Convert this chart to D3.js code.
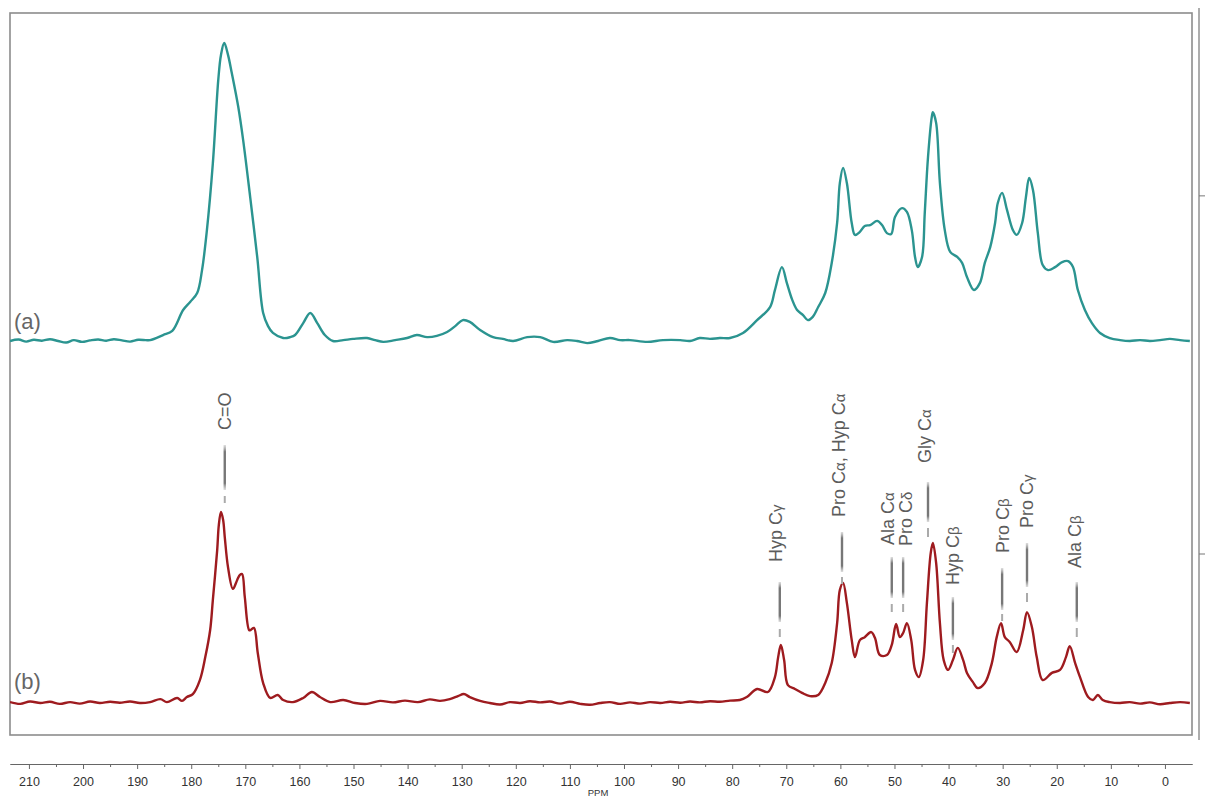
<!DOCTYPE html>
<html lang="en">
<head>
<meta charset="UTF-8">
<title>13C NMR spectra (a) and (b)</title>
<style>
  body { margin: 0; background: #fff; }
  svg { display: block; }
  .frame { fill: none; stroke: #8c8c8c; stroke-width: 1.6px; }
  .trace { fill: none; stroke-width: 2.4px; stroke-linejoin: round; }
  .axis text { font: 12.5px "Liberation Sans", Arial, sans-serif; fill: #333; }
  .axis path, .axis line { stroke: #666; }
  .peak-label { font: 18px "Liberation Sans", Arial, sans-serif; fill: #5c5c5c; }
  .panel-label { font: 22px "Liberation Sans", Arial, sans-serif; fill: #666; }
  .ppm { font: 9.5px "Liberation Sans", Arial, sans-serif; fill: #333; }
</style>
</head>
<body>
<svg width="1206" height="799"></svg>
<script src="https://d3js.org/d3.v7.min.js"></script>
<script>
// spectrum (a), [ppm, intensity]
var traceA = [
  [213.5,0.0],[211.9,0.5],[210.5,-0.2],[209.1,0.4],[207.6,0.1],[206.1,0.6],[204.6,0.0],[203.1,-0.5],[201.7,0.3],[200.2,-0.3],
  [198.7,0.2],[197.2,0.5],[195.7,0.1],[194.3,0.6],[192.8,0.2],[191.3,-0.2],[189.8,0.4],[188.4,0.3],[187.6,0.3],[185.2,2.0],
  [183.5,3.4],[181.5,10.4],[180.2,13.1],[178.9,16.1],[178.0,23.8],[177.1,37.2],[176.0,59.7],[175.0,87.6],[174.5,96.0],[173.9,100],
  [173.2,96.0],[172.5,89.9],[171.3,78.5],[170.4,67.4],[169.1,48.3],[167.8,28.2],[166.7,9.4],[165.8,5.0],[164.9,2.7],[163.0,1.0],
  [161.7,1.3],[160.8,2.0],[159.3,6.0],[158.0,9.4],[156.7,6.0],[155.3,2.0],[153.8,0.0],[151.9,0.3],[150.1,0.7],[147.5,1.0],
  [146.0,0.3],[144.5,-0.3],[142.3,0.3],[140.1,1.0],[138.3,2.0],[136.4,1.3],[134.6,1.7],[132.7,3.0],[131.2,5.0],[129.8,7.0],
  [128.5,6.4],[126.6,3.7],[124.2,1.3],[122.4,0.7],[120.5,0.0],[117.9,1.3],[115.5,1.3],[113.1,-0.3],[110.5,0.3],[108.7,0.0],
  [106.8,-0.7],[104.8,0.0],[102.6,1.0],[100.7,0.3],[98.9,0.3],[95.7,-0.3],[92.8,0.3],[89.6,0.3],[87.8,0.0],[86.0,1.0],
  [84.1,0.7],[82.3,1.0],[80.4,1.0],[78.0,2.7],[75.4,7.0],[73.0,11.4],[72.1,17.1],[70.8,24.8],[69.9,19.5],[68.9,13.8],
  [68.0,10.4],[66.9,8.7],[66.0,7.0],[65.1,8.1],[64.1,11.4],[62.8,16.1],[61.6,26.2],[60.6,39.6],[60.1,53.0],[59.5,58.1],
  [58.8,53.0],[57.9,39.6],[57.3,35.6],[56.4,36.6],[55.5,38.6],[54.5,38.9],[53.2,40.3],[52.3,38.9],[51.4,36.2],[50.6,35.9],
  [49.9,41.6],[48.6,44.6],[47.7,43.3],[46.8,37.2],[46.2,28.2],[45.7,24.8],[44.9,28.2],[44.4,43.0],[43.8,61.7],[43.1,75.2],
  [42.9,76.8],[42.3,73.2],[41.6,53.0],[40.7,37.2],[39.7,29.9],[38.4,28.2],[37.5,26.2],[36.6,21.5],[35.3,17.1],[34.2,19.5],
  [33.3,26.2],[32.3,31.5],[31.4,39.6],[30.9,46.3],[30.1,49.7],[29.2,44.0],[28.1,37.2],[27.4,35.6],[26.4,39.6],[25.7,48.3],
  [25.1,54.7],[24.4,50.7],[23.5,36.2],[22.6,25.5],[21.6,23.8],[20.3,24.8],[19.0,26.5],[17.9,26.8],[17.0,24.8],[16.1,17.1],
  [14.8,10.4],[13.5,6.0],[12.0,2.7],[10.2,1.0],[8.3,0.3],[6.5,0.0],[4.6,0.3],[2.8,0.0],[0.9,0.3],[-0.9,0.7],
  [-2.8,0.3],[-4.6,0.0]
];

// spectrum (b), [ppm, intensity]
var traceB = [
  [213.5,0.3],[211.6,-0.3],[209.8,0.5],[207.9,0.0],[206.1,0.4],[204.3,-0.3],[202.4,0.3],[200.6,-0.2],[198.7,0.5],[196.9,0.0],
  [195.0,0.4],[193.2,0.1],[191.3,0.5],[189.5,0.0],[187.6,0.3],[185.7,1.3],[184.5,0.3],[182.6,1.7],[181.7,0.7],[180.8,2.0],
  [179.7,3.0],[178.4,7.7],[177.4,15.4],[176.5,24.5],[176.0,34.6],[175.2,51.3],[174.9,59.7],[174.5,64.1],[174.1,61.4],[173.8,55.7],
  [173.2,45.6],[172.3,38.3],[171.5,41.3],[171.0,43.0],[170.6,43.3],[170.1,35.6],[169.3,24.5],[169.0,24.5],[168.4,25.2],[167.7,16.8],
  [166.7,6.7],[165.4,1.7],[164.0,2.7],[163.0,1.0],[161.2,0.3],[159.3,1.7],[157.7,3.7],[156.2,2.0],[154.3,0.3],[151.9,1.0],
  [149.7,0.0],[147.5,-0.3],[145.1,0.7],[142.7,0.2],[140.5,0.8],[138.1,0.3],[135.9,1.2],[134.0,0.7],[132.2,1.3],[130.7,2.3],
  [129.6,3.0],[128.5,2.0],[126.6,0.7],[124.8,0.0],[122.9,-0.5],[121.1,0.3],[119.2,0.0],[117.4,0.6],[115.5,0.2],[113.7,0.5],
  [111.8,-0.2],[110.0,0.4],[108.1,-0.3],[106.3,-0.6],[104.4,0.0],[102.6,0.3],[100.7,-0.3],[98.9,0.2],[97.0,-0.2],[95.2,0.3],
  [93.3,0.0],[91.5,0.4],[89.6,0.1],[87.8,0.5],[86.0,0.2],[84.1,0.6],[82.3,0.4],[80.4,0.8],[78.6,1.0],[77.3,2.0],
  [75.4,4.7],[73.4,3.7],[72.1,8.7],[71.5,15.4],[71.0,19.5],[70.4,14.4],[69.7,6.0],[68.4,4.7],[67.1,3.4],[65.6,2.3],
  [64.1,2.7],[62.8,6.7],[61.6,13.4],[60.6,26.8],[60.1,37.9],[59.5,40.3],[58.8,33.6],[57.9,21.1],[57.3,15.4],[56.4,21.1],
  [55.5,22.1],[54.3,23.8],[53.6,21.8],[52.7,16.1],[51.4,16.1],[50.5,19.5],[49.7,26.5],[49.0,22.1],[48.4,23.5],[47.7,26.8],
  [46.9,21.1],[46.2,11.1],[45.5,8.7],[44.7,14.4],[44.0,33.6],[43.3,50.3],[42.9,53.7],[42.3,47.0],[41.6,26.8],[40.9,14.4],
  [40.1,11.1],[39.2,14.4],[38.3,18.5],[37.3,14.4],[36.6,10.1],[35.5,7.0],[34.6,5.0],[33.3,6.7],[32.0,13.4],[31.1,22.1],
  [30.3,26.8],[29.6,22.1],[28.7,20.5],[27.4,17.1],[26.2,24.5],[25.5,30.5],[24.6,25.5],[23.7,15.4],[22.6,7.7],[20.9,10.1],
  [19.4,11.1],[18.3,15.4],[17.6,19.1],[16.6,13.4],[15.7,8.7],[14.2,2.0],[13.3,1.0],[12.4,2.7],[11.5,1.0],[10.2,0.3],
  [8.3,0.0],[6.5,0.3],[4.6,-0.2],[2.8,0.2],[0.9,-0.4],[-0.9,0.0],[-2.8,0.3],[-4.6,0.0]
];

var majorTicks = [210, 200, 190, 180, 170, 160, 150, 140, 130, 120, 110, 100, 90, 80, 70, 60, 50, 40, 30, 20, 10, 0];
var minorTicks = [205, 195, 185, 175, 165, 155, 145, 135, 125, 115, 105, 95, 85, 75, 65, 55, 45, 35, 25, 15, 5];
// intensity ticks on the outer right line, one per spectrum
var sideTicksA = [48.7];
var sideTicksB = [50];

// peak assignments for spectrum (b)
var peakNames = ["C=O", "Hyp Cγ", "Pro Cα, Hyp Cα", "Ala Cα", "Pro Cδ", "Gly Cα", "Hyp Cβ", "Pro Cβ", "Pro Cγ", "Ala Cβ"];
var peakPpm = [173.8, 71.2, 59.7, 50.5, 48.4, 43.8, 39.2, 30.1, 25.5, 16.3];

// where each label sits (pixels): text offset, text bottom, leader line, little dash under it
var labelLayout = [
  {dx: 0, text: 430, line: [445, 490], dash: [496, 503]},
  {dx: -4, text: 562, line: [582, 622], dash: [629, 637]},
  {dx: -3, text: 517, line: [532, 572], dash: [577, 584]},
  {dx: -4, text: 545, line: [557, 598], dash: [604, 612]},
  {dx: 3, text: 546, line: [557, 598], dash: [604, 612]},
  {dx: -3, text: 463, line: [482, 522], dash: [528, 537]},
  {dx: 0, text: 585, line: [597, 640], dash: [645, 653]},
  {dx: 1, text: 553, line: [568, 610], dash: [614, 621]},
  {dx: 0, text: 528, line: [543, 587], dash: [593, 602]},
  {dx: -2, text: 568, line: [582, 622], dash: [628, 637]}
];

var svg = d3.select("svg");
// note: "top" is taken by window.top, so use m.* for the frame edges
var m = {left: 10, right: 1192, top: 13, bottom: 735};

var x = d3.scaleLinear().domain([213.5, -5]).range([m.left, m.right]);
var yA = d3.scaleLinear().domain([0, 100]).range([341, 43]);
var yB = d3.scaleLinear().domain([0, 100]).range([703, 405]);

var defs = svg.append("defs");
defs.append("clipPath").attr("id", "plot")
  .append("rect").attr("x", m.left).attr("y", m.top).attr("width", m.right - m.left).attr("height", m.bottom - m.top);

var grad = defs.append("linearGradient").attr("id", "lead")
  .attr("x1", 0).attr("y1", 0).attr("x2", 0).attr("y2", 1);
grad.append("stop").attr("offset", "0%").attr("stop-color", "#aaa").attr("stop-opacity", 0.4);
grad.append("stop").attr("offset", "15%").attr("stop-color", "#777");
grad.append("stop").attr("offset", "85%").attr("stop-color", "#777");
grad.append("stop").attr("offset", "100%").attr("stop-color", "#aaa").attr("stop-opacity", 0.4);

// frame, plus the second line on the right with its two ticks
svg.append("rect").attr("class", "frame")
  .attr("x", m.left).attr("y", m.top).attr("width", m.right - m.left).attr("height", m.bottom - m.top);
svg.append("line").attr("x1", 1199).attr("x2", 1199).attr("y1", 8).attr("y2", 740)
  .attr("stroke", "#999").attr("stroke-width", 1.6);
var sideY = sideTicksA.map(function (v) { return yA(v); }).concat(sideTicksB.map(function (v) { return yB(v); }));
svg.selectAll(".rtick").data(sideY).enter().append("line")
  .attr("x1", 1199).attr("x2", 1205)
  .attr("y1", function (d) { return d; }).attr("y2", function (d) { return d; })
  .attr("stroke", "#777").attr("stroke-width", 1);

// spectra
var g = svg.append("g").attr("clip-path", "url(#plot)");
var lineA = d3.line().curve(d3.curveCatmullRom.alpha(0.5))
  .x(function (d) { return x(d[0]); }).y(function (d) { return yA(d[1]); });
var lineB = d3.line().curve(d3.curveCatmullRom.alpha(0.5))
  .x(function (d) { return x(d[0]); }).y(function (d) { return yB(d[1]); });

g.append("path").datum(traceA).attr("class", "trace").attr("stroke", "#2b9490").attr("d", lineA);
g.append("path").datum(traceB).attr("class", "trace").attr("stroke", "#9e1b1f").attr("d", lineB);

svg.append("text").attr("class", "panel-label").attr("x", 14).attr("y", 329).text("(a)");
svg.append("text").attr("class", "panel-label").attr("x", 14).attr("y", 689).text("(b)");

// peak labels
var labels = svg.selectAll(".peak").data(peakNames).enter().append("g").attr("class", "peak");

labels.append("rect")
  .attr("x", function (d, i) { return x(peakPpm[i]) - 1.2; })
  .attr("y", function (d, i) { return labelLayout[i].line[0]; })
  .attr("width", 2.4)
  .attr("height", function (d, i) { return labelLayout[i].line[1] - labelLayout[i].line[0]; })
  .attr("fill", "url(#lead)");

labels.append("rect")
  .attr("x", function (d, i) { return x(peakPpm[i]) - 1; })
  .attr("y", function (d, i) { return labelLayout[i].dash[0]; })
  .attr("width", 2)
  .attr("height", function (d, i) { return labelLayout[i].dash[1] - labelLayout[i].dash[0]; })
  .attr("fill", "#aaa");

labels.each(function (d, i) {
  var t = d3.select(this).append("text")
    .attr("class", "peak-label")
    .attr("dy", "0.35em")
    .attr("transform", "translate(" + (x(peakPpm[i]) + labelLayout[i].dx) + "," + labelLayout[i].text + ") rotate(-90)");
  // greek letters are set a bit smaller
  d.split(/([α-ω])/).forEach(function (part) {
    if (!part) return;
    var s = t.append("tspan").text(part);
    if (/[α-ω]/.test(part)) s.style("font-size", "15px");
  });
});

// ppm axis
var axisY = 764;
svg.append("g").attr("class", "axis")
  .attr("transform", "translate(0," + axisY + ")")
  .call(d3.axisBottom(x).tickValues(majorTicks).tickSize(5).tickSizeOuter(0).tickPadding(8)
    .tickFormat(d3.format("d")));
svg.append("g").attr("class", "axis")
  .attr("transform", "translate(0," + axisY + ")")
  .call(d3.axisBottom(x).tickValues(minorTicks).tickSize(3).tickSizeOuter(0).tickFormat(""));

svg.append("text").attr("class", "ppm").attr("x", 598).attr("y", 796).attr("text-anchor", "middle").text("PPM");
</script>
</body>
</html>
